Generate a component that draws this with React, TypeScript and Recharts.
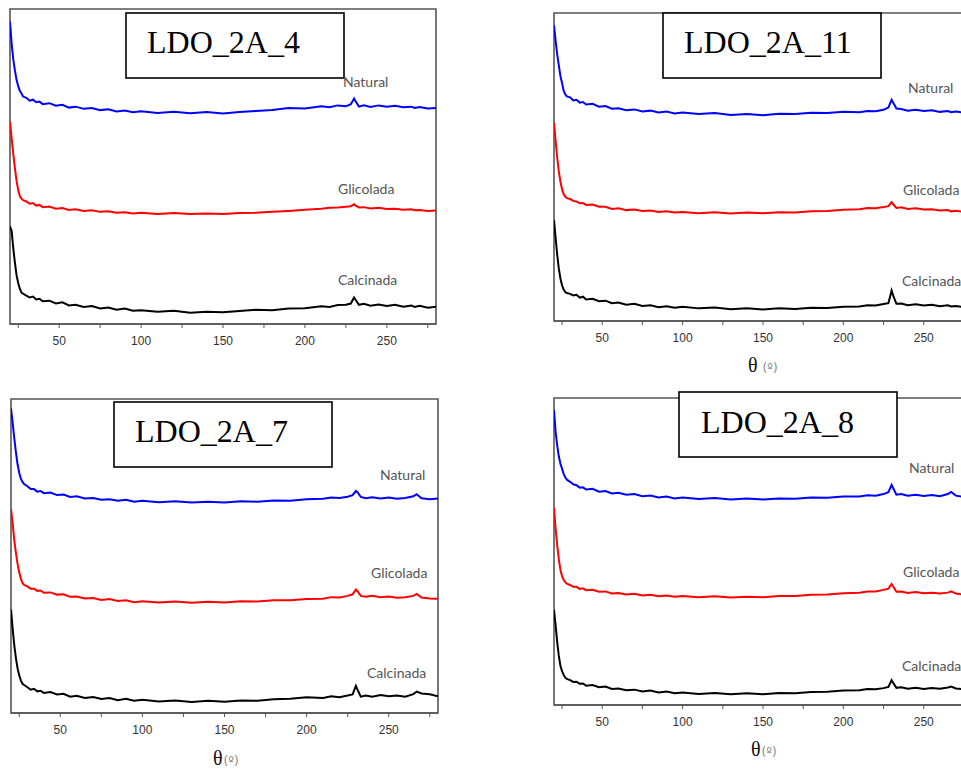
import React from 'react';
import { LineChart, Line, XAxis, YAxis, ReferenceArea } from 'recharts';

// 2θ positions (shared by every panel)
const X = [
  20, 21, 22, 23, 24, 25, 26, 27, 28,
  30, 32, 34, 36, 38, 40,
  44, 48, 52, 56, 60,
  65, 70, 75, 80, 85, 90, 95, 100,
  110, 120, 130, 140, 150, 160, 170, 180, 190, 200, 210,
  215, 220, 225, 228, 230, 231, 233, 236, 240,
  245, 250, 255, 260, 265, 267, 270, 275, 280,
];

const TICKS = [25, 50, 75, 100, 125, 150, 175, 200, 225, 250, 275];
const SERIES_NAMES = ['Natural', 'Glicolada', 'Calcinada'];
const TITLES = ['LDO_2A_4', 'LDO_2A_11', 'LDO_2A_7', 'LDO_2A_8'];

// LDO_2A_4
const A4_NATURAL = [
  96, 89, 84, 80.5, 77.5, 75.5, 74, 73.2, 72.2,
  71.8, 70.9, 71.2, 70.4, 70.6, 69.8,
  70.1, 69.3, 69.6, 68.7, 69.0,
  68.3, 68.6, 67.9, 68.2, 67.5, 67.8, 67.2, 67.5,
  67.0, 67.4, 66.9, 67.3, 66.8, 67.3, 67.6, 67.9, 68.6, 68.4, 69.1,
  68.8, 69.4, 69.1, 69.8, 71.6, 70.6, 69.0, 69.4, 68.9,
  69.4, 69.0, 69.3, 68.8, 69.0, 68.6, 68.9, 68.4, 68.6,
];
const A4_GLICOLADA = [
  64.2, 59, 54, 49.5, 45.5, 42.5, 40.6, 39.8, 39.3,
  38.9, 38.2, 38.4, 37.6, 37.8, 37.1,
  37.3, 36.6, 36.8, 36.2, 36.4,
  35.9, 36.1, 35.6, 35.8, 35.3, 35.5, 35.1, 35.3,
  34.9, 35.2, 34.9, 35.1, 34.9, 35.2, 35.3, 35.6, 35.9, 36.3, 36.6,
  36.9, 37.0, 37.2, 37.4, 38.0, 37.6, 37.0, 37.1, 36.7,
  36.9, 36.5, 36.6, 36.3, 36.4, 36.1, 36.2, 35.9, 36.0,
];
const A4_CALCINADA = [
  31.0, 29.5, 24, 19.5, 15.5, 13, 11.2, 10.0, 9.6,
  9.0, 8.4, 8.7, 7.8, 8.0, 7.2,
  7.4, 6.5, 6.9, 5.9, 6.1,
  5.4, 5.7, 4.9, 5.2, 4.5, 4.9, 4.2, 4.4,
  3.9, 4.2, 3.6, 3.9, 3.7, 4.1, 4.5, 4.4, 4.9, 5.0, 5.6,
  5.4, 6.0, 6.1, 6.5, 8.4, 7.6, 6.1, 6.4, 5.8,
  6.2, 5.7, 6.1, 5.5, 5.9, 5.4, 5.8, 5.2, 5.5,
];

// LDO_2A_11
const A11_NATURAL = [
  96, 91, 86.5, 83, 79.5, 77.3, 74.8, 73.6, 72.9,
  72.6, 71.6, 71.8, 70.9, 71.1, 70.3,
  70.5, 69.6, 69.8, 68.9, 69.1,
  68.4, 68.7, 68.0, 68.3, 67.7, 68.0, 67.4, 67.7,
  67.2, 67.5, 66.9, 67.2, 66.8, 67.3, 67.2, 67.6, 67.5, 67.9, 67.8,
  68.2, 68.1, 68.6, 69.3, 71.8, 70.9, 69.0, 68.8, 68.3,
  68.6, 68.2, 68.4, 67.9, 68.2, 67.8, 68.0, 67.6, 67.8,
];
const A11_GLICOLADA = [
  64.3, 58.5, 53, 48.5, 45.3, 42.8, 41.2, 40.4, 39.9,
  39.6, 39.0, 38.8, 38.2, 38.3, 37.7,
  37.8, 37.1, 37.1, 36.4, 36.6,
  36.0, 36.2, 35.7, 35.9, 35.4, 35.6, 35.2, 35.4,
  35.0, 35.3, 34.9, 35.2, 35.0, 35.3, 35.2, 35.6, 35.7, 36.1, 36.3,
  36.7, 36.6, 37.0, 37.3, 38.6, 37.9, 36.7, 36.9, 36.4,
  36.6, 36.2, 36.3, 35.9, 36.0, 35.6, 35.8, 35.4, 35.5,
];
const A11_CALCINADA = [
  32.8, 27, 21.5, 17, 13.8, 11.6, 10.2, 9.4, 9.1,
  8.8, 8.3, 8.5, 7.6, 7.9, 7.0,
  7.2, 6.4, 6.6, 5.8, 6.0,
  5.3, 5.6, 4.9, 5.1, 4.5, 4.8, 4.3, 4.6,
  4.1, 4.4, 3.8, 4.1, 3.7, 4.1, 3.9, 4.3, 4.2, 4.6, 4.7,
  5.1, 5.0, 5.5, 5.8, 9.9, 8.2, 5.6, 5.7, 5.1,
  5.4, 5.0, 5.3, 4.8, 5.1, 4.7, 4.9, 4.5, 4.7,
];

// LDO_2A_7
const A7_NATURAL = [
  97, 92.5, 87.5, 83, 79.2, 76.5, 74.6, 73.6, 72.9,
  72.2, 71.3, 71.3, 70.5, 70.7, 70.0,
  70.2, 69.4, 69.6, 68.8, 69.0,
  68.3, 68.5, 67.9, 68.1, 67.6, 67.9, 67.3, 67.6,
  67.1, 67.4, 67.0, 67.3, 67.0, 67.4, 67.3, 67.7, 67.6, 68.1, 68.2,
  68.6, 68.5, 68.9, 69.4, 70.7, 70.3, 68.8, 68.4, 68.7,
  68.3, 68.6, 68.2, 68.5, 69.0, 69.7, 68.4, 68.1, 68.3,
];
const A7_GLICOLADA = [
  65, 60.5, 55, 51, 47.5, 44.8, 42.8, 41.4, 40.8,
  40.3, 39.6, 39.6, 38.9, 39.0, 38.3,
  38.4, 37.7, 37.8, 37.0, 37.1,
  36.5, 36.6, 36.0, 36.3, 35.7, 35.9, 35.3, 35.6,
  35.2, 35.5, 35.1, 35.4, 35.2, 35.6, 35.5, 35.9, 35.9, 36.3, 36.4,
  36.9, 36.8, 37.3, 37.8, 39.3, 38.8, 37.3, 37.0, 37.3,
  36.9, 37.1, 36.7, 36.9, 37.3, 37.9, 36.8, 36.5, 36.4,
];
const A7_CALCINADA = [
  33, 27, 21.5, 17.5, 14.2, 12, 10.4, 9.3, 8.9,
  8.2, 7.4, 7.7, 6.9, 7.1, 6.4,
  6.7, 5.9, 6.1, 5.2, 5.5,
  4.8, 5.1, 4.5, 4.8, 4.1, 4.5, 3.9, 4.2,
  3.7, 4.0, 3.5, 3.9, 3.6, 4.0, 3.9, 4.4, 4.5, 5.0, 4.8,
  5.3, 5.0, 5.6, 5.9, 8.6, 7.4, 5.2, 5.6, 5.2,
  5.7, 5.3, 5.6, 5.2, 6.0, 6.8, 6.2, 6.0, 5.3,
];

// LDO_2A_8
const A8_NATURAL = [
  96.1, 89, 84.5, 81, 78.6, 77.0, 75.3, 74.2, 73.4,
  72.7, 71.9, 71.6, 70.8, 70.9, 70.2,
  70.4, 69.5, 69.7, 68.9, 69.1,
  68.5, 68.7, 68.0, 68.2, 67.6, 67.9, 67.3, 67.6,
  67.1, 67.4, 66.9, 67.3, 66.9, 67.3, 67.2, 67.6, 67.5, 67.9, 67.9,
  68.3, 68.2, 68.7, 69.3, 71.7, 70.6, 68.5, 68.7, 68.2,
  68.5, 68.1, 68.4, 68.0, 68.7, 69.4, 68.2, 67.8, 67.9,
];
const A8_GLICOLADA = [
  64.2, 57.5, 52, 47.5, 44, 42, 40.8, 40.0, 39.5,
  39.1, 38.5, 38.5, 37.8, 38.0, 37.4,
  37.5, 36.9, 37.0, 36.3, 36.5,
  36.0, 36.2, 35.7, 35.9, 35.4, 35.7, 35.3, 35.5,
  35.1, 35.4, 35.0, 35.3, 35.1, 35.5, 35.5, 35.9, 36.0, 36.4, 36.6,
  37.0, 37.0, 37.5, 37.9, 39.4, 38.6, 36.9, 37.0, 36.5,
  36.8, 36.4, 36.6, 36.3, 36.6, 37.0, 36.3, 35.9, 36.0,
];
const A8_CALCINADA = [
  31, 26, 20.5, 16, 12.8, 11, 9.8, 8.9, 8.5,
  8.1, 7.5, 7.6, 6.9, 7.0, 6.3,
  6.5, 5.8, 6.0, 5.2, 5.4,
  4.8, 5.0, 4.4, 4.7, 4.1, 4.4, 3.8, 4.1,
  3.6, 3.9, 3.5, 3.8, 3.5, 3.9, 3.8, 4.2, 4.3, 4.7, 4.8,
  5.2, 5.1, 5.5, 5.9, 8.1, 7.2, 5.6, 5.8, 5.3,
  5.6, 5.2, 5.5, 5.3, 5.7, 6.0, 5.4, 5.1, 4.9,
];

const build = (n: number[], g: number[], c: number[]) =>
  X.map((x, i) => ({ x, natural: n[i], glicolada: g[i], calcinada: c[i] }));

const FRAME = '#555';
const LABEL_FONT = 'Lato, "Noto Sans", sans-serif';

type PanelProps = { data: any[]; left: number; top: number; w: number; h: number };

function Panel({ data, left, top, w, h }: PanelProps) {
  return (
    <div style={{ position: 'absolute', left: left - 2, top: top - 2 }}>
      <LineChart
        width={w + 4}
        height={h + 42}
        data={data}
        margin={{ top: 2, right: 2, left: 2, bottom: 10 }}
      >
        <XAxis
          dataKey="x"
          type="number"
          domain={[20, 280]}
          allowDataOverflow
          ticks={TICKS}
          interval={0}
          tickFormatter={(v: number) => (v % 50 === 0 ? String(v) : '')}
          height={30}
          axisLine={{ stroke: FRAME, strokeWidth: 1.6 }}
          tickLine={{ stroke: FRAME, strokeWidth: 1 }}
          tickSize={4}
          tickMargin={8}
          tick={{ fontSize: 12, fill: '#333', fontFamily: '"Liberation Sans", Arial, sans-serif' }}
        />
        <YAxis type="number" domain={[0, 100]} allowDataOverflow width={0} hide />
        <ReferenceArea
          x1={20}
          x2={280}
          y1={0}
          y2={100}
          fill="none"
          fillOpacity={0}
          stroke={FRAME}
          strokeWidth={1.6}
          strokeOpacity={1}
          ifOverflow="visible"
        />
        <Line dataKey="natural" stroke="#0000ff" strokeWidth={2} dot={false} type="linear" isAnimationActive={false} />
        <Line dataKey="glicolada" stroke="#ff0000" strokeWidth={2} dot={false} type="linear" isAnimationActive={false} />
        <Line dataKey="calcinada" stroke="#000000" strokeWidth={2} dot={false} type="linear" isAnimationActive={false} />
      </LineChart>
    </div>
  );
}

function TitleBox({ x, y, text, tx, ty }: { x: number; y: number; text: string; tx: number; ty: number }) {
  return (
    <g>
      <rect x={x} y={y} width={218} height={65} fill="#fff" stroke="#000" strokeWidth={1.6} />
      <text x={tx} y={ty} fontFamily='"Liberation Serif", "Times New Roman", serif' fontSize={32} fill="#000">
        {text}
      </text>
    </g>
  );
}

function SeriesLabels({ pos }: { pos: [number, number][] }) {
  return (
    <g>
      {SERIES_NAMES.map((s, i) => (
        <text key={s} x={pos[i][0]} y={pos[i][1]} fontFamily={LABEL_FONT} fontSize={14} fill="#555">
          {s}
        </text>
      ))}
    </g>
  );
}

function AxisTitle({ x, y, gap }: { x: number; y: number; gap: number }) {
  return (
    <text x={x} y={y}>
      <tspan fontFamily='"Liberation Serif", "Times New Roman", serif' fontSize={20} fill="#111">θ</tspan>
      <tspan dx={gap} fontFamily='"DejaVu Sans", sans-serif' fontSize={12} fill="#888">(º)</tspan>
    </text>
  );
}

export default function App() {
  const d4 = build(A4_NATURAL, A4_GLICOLADA, A4_CALCINADA);
  const d11 = build(A11_NATURAL, A11_GLICOLADA, A11_CALCINADA);
  const d7 = build(A7_NATURAL, A7_GLICOLADA, A7_CALCINADA);
  const d8 = build(A8_NATURAL, A8_GLICOLADA, A8_CALCINADA);
  return (
    <div style={{ position: 'absolute', left: 0, top: 0, width: 961, height: 772, overflow: 'hidden', background: '#fff' }}>
      <Panel data={d4} left={10} top={9} w={426} h={315} />
      <Panel data={d11} left={554} top={13} w={418} h={308} />
      <Panel data={d7} left={11} top={399} w={427} h={314} />
      <Panel data={d8} left={554} top={398} w={418} h={307} />
      <svg width={961} height={772} style={{ position: 'absolute', left: 0, top: 0, pointerEvents: 'none' }}>
        <TitleBox x={126} y={13} text={TITLES[0]} tx={147} ty={53} />
        <TitleBox x={663} y={13} text={TITLES[1]} tx={684} ty={53} />
        <TitleBox x={114} y={402} text={TITLES[2]} tx={135} ty={442} />
        <TitleBox x={679} y={392} text={TITLES[3]} tx={701} ty={433} />
        <SeriesLabels pos={[[343, 87], [338, 194], [338, 285]]} />
        <SeriesLabels pos={[[908, 93], [903, 195], [902, 286]]} />
        <SeriesLabels pos={[[380, 480], [371, 578], [367, 678]]} />
        <SeriesLabels pos={[[909, 473], [903, 577], [902, 671]]} />
        <AxisTitle x={748} y={372} gap={5} />
        <AxisTitle x={213} y={765} gap={1} />
        <AxisTitle x={751} y={756} gap={1} />
      </svg>
    </div>
  );
}
